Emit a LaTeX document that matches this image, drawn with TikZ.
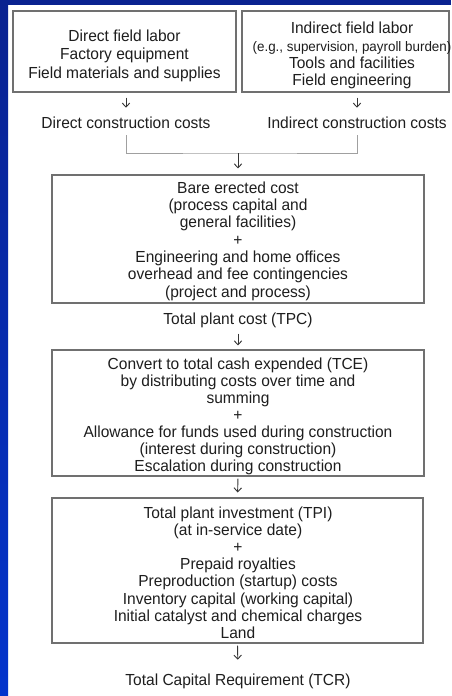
\documentclass[tikz,border=0pt]{standalone}
\usepackage{fontspec}
\setmainfont{Liberation Sans}[FakeStretch=0.97]
\usetikzlibrary{arrows.meta}
\definecolor{navy}{HTML}{0A2290}
\definecolor{brightblue}{HTML}{0434CC}
\definecolor{boxgray}{HTML}{707070}
\definecolor{linegray}{HTML}{A0A0A0}
\definecolor{txt}{HTML}{1E1E1E}
\begin{document}
\begin{tikzpicture}[x=1pt,y=-1pt,
  costbox/.style={draw=boxgray, line width=1.1pt, inner sep=0pt},
  boxtext/.style={inner sep=0pt, anchor=north, align=center, text=txt},
  lbl/.style={inner sep=0pt, anchor=base, text=txt, font=\fontsize{16}{17.2}\selectfont},
  arr/.style={draw=txt!90, line width=0.9pt, -{Straight Barb[length=4pt,width=7.5pt]}},
  bline/.style={draw=linegray, line width=1pt}]
\useasboundingbox (0,0) rectangle (451,696);
\clip (0,0) rectangle (451,696);
% background
\fill[white] (0,0) rectangle (451,696);
\fill[navy] (0,0) rectangle (451,5);
\shade[top color=navy, bottom color=brightblue] (0,0) rectangle (8,696);
% boxes
\node[costbox, minimum width=223pt, minimum height=81pt] (b1) at (124.5,51.5) {};
\node[costbox, minimum width=207pt, minimum height=81pt] (br) at (345.5,51.5) {};
\node[costbox, minimum width=372pt, minimum height=128pt] (b2) at (238,239) {};
\node[costbox, minimum width=372pt, minimum height=126pt] (b3) at (238,413) {};
\node[costbox, minimum width=371pt, minimum height=145pt] (b4) at (237.5,570.5) {};
% box texts
\node[boxtext, font=\fontsize{16}{18.5}\selectfont] (t1) at (124.5,29.4)
  {Direct field labor\\Factory equipment\\Field materials and supplies};
\node[boxtext, font=\fontsize{16}{17.2}\selectfont] (tr) at (352,22.1)
  {Indirect field labor\\{\fontsize{13.8}{17.2}\selectfont (e.g., supervision, payroll burden)}\\Tools and facilities\\Field engineering};
\node[boxtext, font=\fontsize{16}{17.3}\selectfont] (t2) at (238,181.5)
  {Bare erected cost\\(process capital and\\general facilities)\\+\\Engineering and home offices\\overhead and fee contingencies\\(project and process)};
\node[boxtext, font=\fontsize{16}{17.0}\selectfont] (t3) at (238,357.5)
  {Convert to total cash expended (TCE)\\by distributing costs over time and\\summing\\+\\Allowance for funds used during construction\\(interest during construction)\\Escalation during construction};
\node[boxtext, font=\fontsize{16}{17.14}\selectfont] (t4) at (238,506.5)
  {Total plant investment (TPI)\\(at in-service date)\\+\\Prepaid royalties\\Preproduction (startup) costs\\Inventory capital (working capital)\\Initial catalyst and chemical charges\\Land};
% labels
\node[lbl] (dcc) at (126,128.5) {Direct construction costs};
\node[lbl] (icc) at (357,128.5) {Indirect construction costs};
\node[lbl] (tpc) at (238,324.5) {Total plant cost (TPC)};
\node[lbl] (tcr) at (238,685) {Total Capital Requirement (TCR)};
\coordinate (j) at (238,153);
% connectors
\draw[arr, shorten <=5pt, shorten >=9pt] (b1.south -| dcc.north) -- (dcc.north);
\draw[arr, shorten <=5pt, shorten >=9pt] (br.south -| icc.north) -- (icc.north);
\draw[bline] ([yshift=-6.5pt]dcc.south) |- (j) -| ([yshift=-6.5pt]icc.south);
\draw[arr, shorten >=6pt] (j) -- (b2.north);
\draw[arr, shorten <=5.6pt, shorten >=4pt] (tpc.south) -- (b3.north);
\draw[arr, shorten <=2pt, shorten >=5pt] (b3.south) -- (b4.north);
\draw[arr, shorten <=2pt, shorten >=13.5pt] (b4.south) -- (tcr.north);
\end{tikzpicture}
\end{document}
